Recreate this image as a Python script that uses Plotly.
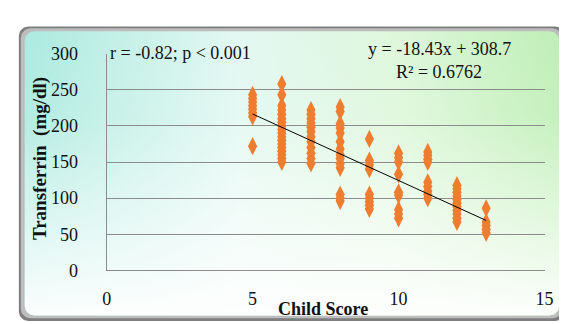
import numpy as np
import plotly.graph_objects as go

# ---------------- data ----------------
child_score = (
    [5] * 8 + [6] * 18 + [7] * 12 + [8] * 14 + [9] * 9 +
    [10] * 9 + [11] * 9 + [12] * 11 + [13] * 5
)
transferrin = (
    [243, 238, 233, 228, 223, 218, 213, 172] +
    [258, 243, 228, 222, 216, 210, 205, 200, 195, 190, 185, 180, 175, 170, 165, 160, 155, 150] +
    [222, 216, 210, 204, 198, 192, 185, 178, 170, 162, 155, 148] +
    [226, 220, 203, 197, 190, 178, 168, 160, 155, 148, 142, 105, 100, 96] +
    [182, 152, 146, 140, 105, 100, 95, 90, 85] +
    [162, 156, 150, 133, 108, 104, 84, 78, 72] +
    [164, 159, 154, 150, 122, 116, 110, 105, 100] +
    [118, 113, 108, 103, 98, 93, 88, 83, 78, 72, 67] +
    [86, 67, 62, 57, 52]
)
trend_slope = -18.43
trend_intercept = 308.7
trend_x = [min(child_score), max(child_score)]
x_ticks = [0, 5, 10, 15]
y_ticks = [0, 50, 100, 150, 200, 250, 300]

W, H = 567, 324
FONT = "Liberation Serif"


def rounded_rect(x0, y0, x1, y1, r, n=12):
    xs, ys = [], []
    corners = [
        (x1 - r, y0 + r, -90, 0),
        (x1 - r, y1 - r, 0, 90),
        (x0 + r, y1 - r, 90, 180),
        (x0 + r, y0 + r, 180, 270),
    ]
    for cx, cy, a0, a1 in corners:
        a = np.radians(np.linspace(a0, a1, n))
        xs += list(cx + r * np.cos(a))
        ys += list(cy + r * np.sin(a))
    xs.append(xs[0])
    ys.append(ys[0])
    return xs, ys


fig = go.Figure()

# ---- background frame (pixel-like coordinates on hidden axes x/y) ----
fx, fy = rounded_rect(6, 9, 566, 323, 10)
fig.add_trace(go.Scatter(x=fx, y=fy, mode="lines", fill="toself",
                         fillcolor="#7e7e7e", line=dict(width=0),
                         hoverinfo="skip", showlegend=False))
fx, fy = rounded_rect(8, 11, 563, 320, 10)
fig.add_trace(go.Scatter(x=fx, y=fy, mode="lines", fill="toself",
                         fillcolor="#bdbdbd", line=dict(width=0),
                         hoverinfo="skip", showlegend=False))
fx, fy = rounded_rect(12, 14, 560, 317, 10)
fig.add_trace(go.Scatter(
    x=fx, y=fy, mode="lines", fill="toself", line=dict(width=0),
    fillgradient=dict(type="horizontal",
                      colorscale=[[0, "#abeadf"], [0.4, "#e3f8f2"],
                                  [0.7, "#def7db"], [1, "#bfefb6"]]),
    hoverinfo="skip", showlegend=False))
fig.add_trace(go.Scatter(
    x=fx, y=fy, mode="lines", fill="toself", line=dict(width=0),
    fillgradient=dict(type="vertical",
                      colorscale=[[0, "rgba(255,255,255,0.95)"],
                                  [0.3, "rgba(255,255,255,0.6)"],
                                  [0.7, "rgba(255,255,255,0.1)"],
                                  [1, "rgba(255,255,255,0)"]]),
    hoverinfo="skip", showlegend=False))

# ---- main chart on x2/y2 ----
fig.add_trace(go.Scatter(
    x=child_score, y=transferrin, mode="markers",
    marker=dict(symbol="diamond-tall", size=13, color="#ef7d30",
                line=dict(width=0)),
    xaxis="x2", yaxis="y2", showlegend=False))
fig.add_trace(go.Scatter(
    x=trend_x, y=[trend_slope * v + trend_intercept for v in trend_x],
    mode="lines", line=dict(color="black", width=1),
    xaxis="x2", yaxis="y2", showlegend=False))

px0, px1 = 96, 545
py_top, py_bot = 38, 269

fig.update_layout(
    width=W, height=H,
    margin=dict(l=0, r=0, t=0, b=0),
    paper_bgcolor="white",
    plot_bgcolor="rgba(0,0,0,0)",
    font=dict(family=FONT, size=18, color="#111111"),
    xaxis=dict(domain=[0, 1], range=[0, W], visible=False, fixedrange=True),
    yaxis=dict(domain=[0, 1], range=[H, 0], visible=False, fixedrange=True),
    xaxis2=dict(domain=[px0 / W, px1 / W], anchor="y2", range=[0, 15],
                tickvals=x_ticks, showgrid=False, zeroline=False,
                showline=True, linecolor="#8c8c8c", linewidth=1,
                ticks="", ticklabelstandoff=12,
                tickfont=dict(family=FONT, size=18, color="#111111")),
    yaxis2=dict(domain=[1 - py_bot / H, 1 - py_top / H], anchor="x2",
                range=[0, 300], tickvals=y_ticks, showgrid=True,
                gridcolor="#8c8c8c", gridwidth=1, zeroline=False,
                showline=True, linecolor="#8c8c8c", linewidth=1,
                ticks="", ticklabelstandoff=24,
                tickfont=dict(family=FONT, size=18, color="#111111")),
    annotations=[
        dict(text="r = -0.82; p < 0.001", xref="paper", yref="paper",
             x=97 / W, y=1 - 37 / H, xanchor="left", yanchor="middle",
             showarrow=False, font=dict(family=FONT, size=18, color="#111111")),
        dict(text="y = -18.43x + 308.7", xref="paper", yref="paper",
             x=437 / W, y=1 - 33 / H, xanchor="center", yanchor="middle",
             showarrow=False, font=dict(family=FONT, size=18, color="#111111")),
        dict(text="R² = 0.6762", xref="paper", yref="paper",
             x=437 / W, y=1 - 58 / H, xanchor="center", yanchor="middle",
             showarrow=False, font=dict(family=FONT, size=18, color="#111111")),
        dict(text="<b>Child Score</b>", xref="paper", yref="paper",
             x=318 / W, y=1 - 310 / H, xanchor="center", yanchor="middle",
             showarrow=False, font=dict(family=FONT, size=18, color="#111111")),
        dict(text="<b>Transferrin  (mg/dl)</b>", xref="paper", yref="paper",
             x=27 / W, y=1 - 150 / H, xanchor="center", yanchor="middle",
             textangle=-90, showarrow=False,
             font=dict(family=FONT, size=19, color="#111111")),
    ],
)

fig.write_html("out.html")
